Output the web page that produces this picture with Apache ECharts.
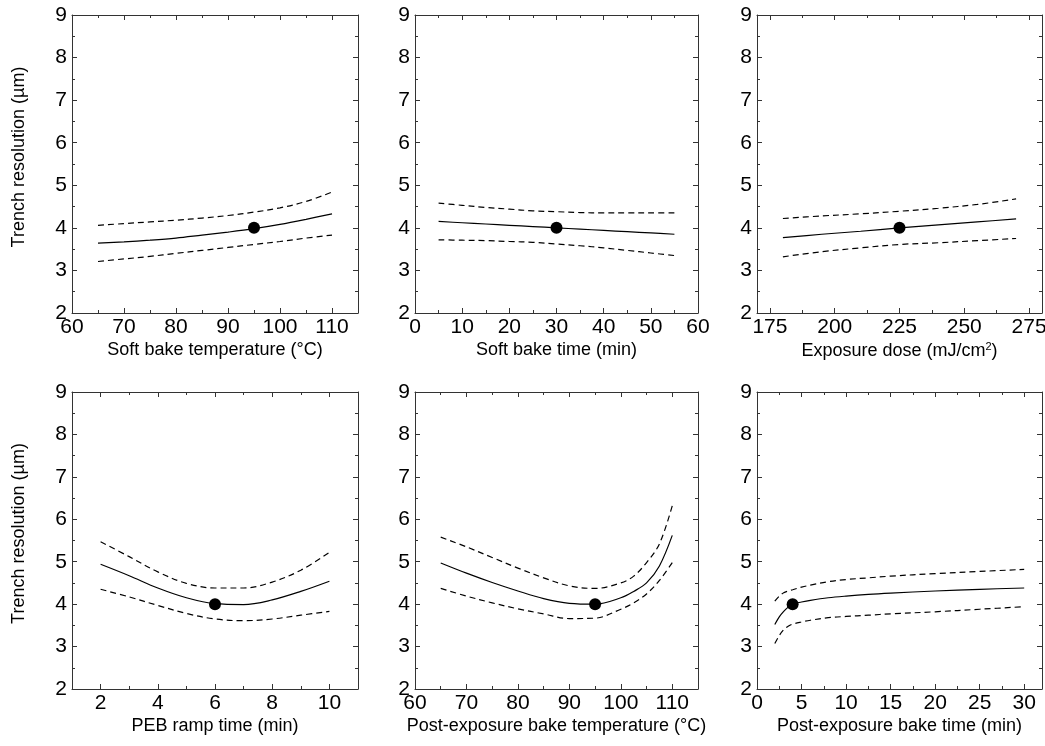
<!DOCTYPE html>
<html>
<head>
<meta charset="utf-8">
<script src="https://cdn.jsdelivr.net/npm/echarts@6/dist/echarts.min.js"></script>
<style>
  html, body { margin: 0; padding: 0; background: #ffffff; }
  #chart { width: 1045px; height: 746px; }
</style>
</head>
<body>
<div id="chart"></div>
<script>
// Trench resolution vs. process parameters: fitted response (solid),
// confidence band (dashed) and chosen operating point (dot).

// Shared y-axis ticks (µm)
const yMajorTicks = [2, 3, 4, 5, 6, 7, 8, 9];
const yMinorTicks = [2.5, 3.5, 4.5, 5.5, 6.5, 7.5, 8.5];

// Soft bake temperature (°C)
const sbTempX     = [65, 70, 75, 80, 85, 90, 95, 100, 105, 110];
const sbTempFit   = [3.64, 3.67, 3.71, 3.76, 3.83, 3.90, 3.98, 4.08, 4.20, 4.33];
const sbTempUpper = [4.06, 4.10, 4.14, 4.18, 4.23, 4.29, 4.37, 4.47, 4.62, 4.84];
const sbTempLower = [3.21, 3.27, 3.33, 3.40, 3.47, 3.54, 3.61, 3.68, 3.76, 3.83];
const sbTempOpt   = [95, 4.0];
const sbTempTicks = [60, 70, 80, 90, 100, 110];
const sbTempMinor = [65, 75, 85, 95, 105, 115];

// Soft bake time (min)
const sbTimeX     = [5, 10, 15, 20, 25, 30, 35, 40, 45, 50, 55];
const sbTimeFit   = [4.15, 4.12, 4.09, 4.06, 4.03, 4.00, 3.97, 3.94, 3.91, 3.88, 3.85];
const sbTimeUpper = [4.58, 4.53, 4.48, 4.44, 4.40, 4.38, 4.36, 4.35, 4.35, 4.35, 4.35];
const sbTimeLower = [3.72, 3.71, 3.70, 3.68, 3.66, 3.62, 3.58, 3.53, 3.47, 3.41, 3.35];
const sbTimeOpt   = [30, 4.0];
const sbTimeTicks = [0, 10, 20, 30, 40, 50, 60];
const sbTimeMinor = [5, 15, 25, 35, 45, 55];

// Exposure dose (mJ/cm²)
const doseX     = [180, 195, 210, 225, 240, 255, 270];
const doseFit   = [3.77, 3.85, 3.92, 4.00, 4.07, 4.14, 4.21];
const doseUpper = [4.22, 4.28, 4.33, 4.39, 4.46, 4.55, 4.68];
const doseLower = [3.32, 3.44, 3.53, 3.61, 3.65, 3.70, 3.75];
const doseOpt   = [225, 4.0];
const doseTicks = [175, 200, 225, 250, 275];
const doseMinor = [187.5, 212.5, 237.5, 262.5];

// PEB ramp time (min)
const rampX     = [2, 3, 4, 5, 6, 7, 8, 9, 10];
const rampFit   = [4.94, 4.67, 4.38, 4.15, 4.01, 3.99, 4.10, 4.30, 4.54];
const rampUpper = [5.47, 5.12, 4.76, 4.49, 4.38, 4.38, 4.52, 4.80, 5.22];
const rampLower = [4.35, 4.17, 3.97, 3.78, 3.65, 3.61, 3.65, 3.74, 3.83];
const rampOpt   = [6, 4.0];
const rampTicks = [2, 4, 6, 8, 10];
const rampMinor = [1, 3, 5, 7, 9, 11];

// Post-exposure bake temperature (°C)
const pebTempX     = [65, 70, 75, 80, 85, 90, 95, 100, 102.5, 105, 107.5, 110];
const pebTempFit   = [4.97, 4.73, 4.51, 4.31, 4.13, 4.02, 4.00, 4.15, 4.30, 4.50, 4.90, 5.62];
const pebTempUpper = [5.58, 5.35, 5.10, 4.85, 4.62, 4.43, 4.37, 4.50, 4.66, 4.98, 5.42, 6.32];
const pebTempLower = [4.37, 4.19, 4.03, 3.89, 3.77, 3.66, 3.67, 3.88, 4.03, 4.24, 4.56, 4.98];
const pebTempOpt   = [95, 4.0];
const pebTempTicks = [60, 70, 80, 90, 100, 110];
const pebTempMinor = [65, 75, 85, 95, 105, 115];

// Post-exposure bake time (min)
const pebTimeX     = [2, 2.5, 3, 3.5, 4, 5, 6, 8, 10, 12.5, 15, 20, 25, 30];
const pebTimeFit   = [3.52, 3.70, 3.83, 3.93, 4.00, 4.05, 4.09, 4.15, 4.19, 4.23, 4.26, 4.31, 4.35, 4.38];
const pebTimeUpper = [4.07, 4.19, 4.27, 4.31, 4.34, 4.40, 4.45, 4.53, 4.58, 4.62, 4.66, 4.72, 4.77, 4.82];
const pebTimeLower = [3.07, 3.26, 3.40, 3.48, 3.53, 3.58, 3.62, 3.68, 3.71, 3.74, 3.77, 3.82, 3.88, 3.94];
const pebTimeOpt   = [4, 4.0];
const pebTimeTicks = [0, 5, 10, 15, 20, 25, 30];
const pebTimeMinor = [2.5, 7.5, 12.5, 17.5, 22.5, 27.5];

const FONT = '"Liberation Sans", Arial, Helvetica, sans-serif';
const AXIS_COLOR = '#333333';

const panels = [
  { grid: { left: 72,  top: 15,  width: 286, height: 298 }, xMin: 60,  xMax: 115,
    ticks: sbTempTicks, minor: sbTempMinor, title: 'Soft bake temperature (°C)',
    x: sbTempX, fit: sbTempFit, upper: sbTempUpper, lower: sbTempLower, opt: sbTempOpt, yTitle: true },
  { grid: { left: 415, top: 15,  width: 283, height: 298 }, xMin: 0,   xMax: 60,
    ticks: sbTimeTicks, minor: sbTimeMinor, title: 'Soft bake time (min)',
    x: sbTimeX, fit: sbTimeFit, upper: sbTimeUpper, lower: sbTimeLower, opt: sbTimeOpt, yTitle: false },
  { grid: { left: 757, top: 15,  width: 285, height: 298 }, xMin: 170, xMax: 280,
    ticks: doseTicks, minor: doseMinor, title: 'Exposure dose (mJ/cm{sup|2})',
    x: doseX, fit: doseFit, upper: doseUpper, lower: doseLower, opt: doseOpt, yTitle: false },
  { grid: { left: 72,  top: 392, width: 286, height: 297 }, xMin: 1,   xMax: 11,
    ticks: rampTicks, minor: rampMinor, title: 'PEB ramp time (min)',
    x: rampX, fit: rampFit, upper: rampUpper, lower: rampLower, opt: rampOpt, yTitle: true },
  { grid: { left: 415, top: 392, width: 283, height: 297 }, xMin: 60,  xMax: 115,
    ticks: pebTempTicks, minor: pebTempMinor, title: 'Post-exposure bake temperature (°C)',
    x: pebTempX, fit: pebTempFit, upper: pebTempUpper, lower: pebTempLower, opt: pebTempOpt, yTitle: false },
  { grid: { left: 757, top: 392, width: 285, height: 297 }, xMin: 0,   xMax: 32,
    ticks: pebTimeTicks, minor: pebTimeMinor, title: 'Post-exposure bake time (min)',
    x: pebTimeX, fit: pebTimeFit, upper: pebTimeUpper, lower: pebTimeLower, opt: pebTimeOpt, yTitle: false }
];

const zip = (xs, ys) => xs.map((v, i) => [v, ys[i]]);

const grids = [], xAxes = [], yAxes = [], series = [];

// One axis layer: major ticks (with line / labels) or minor ticks only
function axisLayer(kind, gi, position, min, max, values, isMajor, showLabels) {
  return {
    type: 'value',
    gridIndex: gi,
    position: position,
    min: min,
    max: max,
    axisLine: { show: isMajor, onZero: false, lineStyle: { color: AXIS_COLOR, width: 1 } },
    axisTick: {
      show: true, inside: true, length: isMajor ? 5 : 3,
      customValues: values,
      lineStyle: { color: AXIS_COLOR, width: 1 }
    },
    axisLabel: showLabels ? {
      show: true, customValues: values,
      margin: kind === 'x' ? 4 : 5,
      color: '#000', fontSize: 21, fontFamily: FONT
    } : { show: false },
    splitLine: { show: false },
    minorTick: { show: false }
  };
}

panels.forEach((p, gi) => {
  grids.push(Object.assign({ outerBoundsMode: 'none', containLabel: false }, p.grid));

  const xBase = xAxes.length;
  const bottom = axisLayer('x', gi, 'bottom', p.xMin, p.xMax, p.ticks, true, true);
  bottom.name = p.title;
  bottom.nameLocation = 'middle';
  bottom.nameGap = 28;
  bottom.nameMoveOverlap = false;
  bottom.nameTextStyle = {
    color: '#000', fontSize: 18, fontFamily: FONT,
    rich: { sup: { fontSize: 11, fontFamily: FONT, color: '#000', verticalAlign: 'top', padding: [0, 0, 10, 0] } }
  };
  xAxes.push(bottom);
  xAxes.push(axisLayer('x', gi, 'bottom', p.xMin, p.xMax, p.minor, false, false));
  xAxes.push(axisLayer('x', gi, 'top', p.xMin, p.xMax, p.ticks, true, false));
  xAxes.push(axisLayer('x', gi, 'top', p.xMin, p.xMax, p.minor, false, false));

  const yBase = yAxes.length;
  const left = axisLayer('y', gi, 'left', 2, 9, yMajorTicks, true, true);
  if (p.yTitle) {
    left.name = 'Trench resolution (µm)';
    left.nameLocation = 'middle';
    left.nameGap = 44;
    left.nameMoveOverlap = false;
    left.nameTextStyle = { color: '#000', fontSize: 18, fontFamily: FONT, padding: [0, 0, 0, 14] };
  }
  yAxes.push(left);
  yAxes.push(axisLayer('y', gi, 'left', 2, 9, yMinorTicks, false, false));
  yAxes.push(axisLayer('y', gi, 'right', 2, 9, yMajorTicks, true, false));
  yAxes.push(axisLayer('y', gi, 'right', 2, 9, yMinorTicks, false, false));

  const lineBase = {
    type: 'line', xAxisIndex: xBase, yAxisIndex: yBase,
    showSymbol: false, smooth: 0.35, silent: true, animation: false
  };
  series.push(Object.assign({}, lineBase, {
    name: 'upper', data: zip(p.x, p.upper),
    lineStyle: { color: '#000', width: 1.2, type: [6, 4] }
  }));
  series.push(Object.assign({}, lineBase, {
    name: 'lower', data: zip(p.x, p.lower),
    lineStyle: { color: '#000', width: 1.2, type: [6, 4] }
  }));
  series.push(Object.assign({}, lineBase, {
    name: 'fit', data: zip(p.x, p.fit),
    lineStyle: { color: '#000', width: 1.2, type: 'solid' }
  }));
  series.push({
    type: 'scatter', xAxisIndex: xBase, yAxisIndex: yBase,
    name: 'optimum', data: [p.opt], symbol: 'circle', symbolSize: 12,
    itemStyle: { color: '#000', opacity: 1 }, z: 5, silent: true, animation: false
  });
});

const chart = echarts.init(document.getElementById('chart'), null, { renderer: 'canvas' });
chart.setOption({
  backgroundColor: '#ffffff',
  animation: false,
  textStyle: { fontFamily: FONT },
  grid: grids,
  xAxis: xAxes,
  yAxis: yAxes,
  series: series
});
</script>
</body>
</html>
